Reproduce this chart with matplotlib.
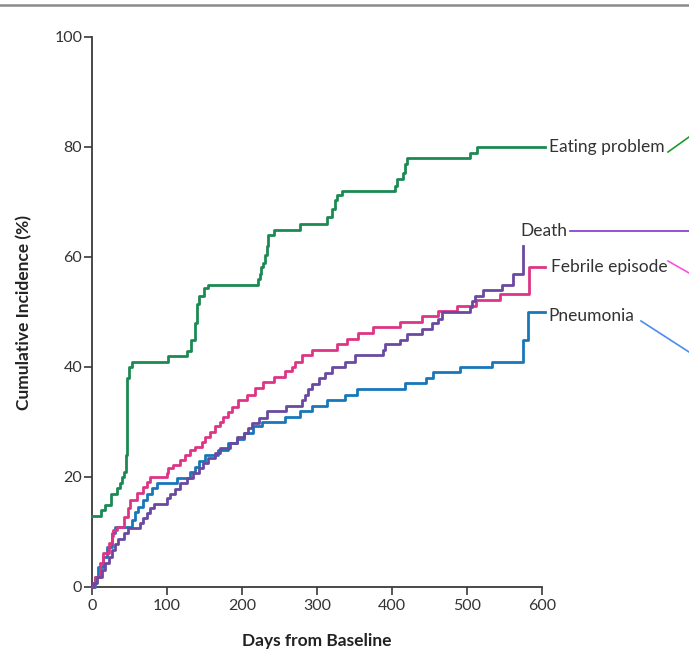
import matplotlib
matplotlib.use("Agg")
import matplotlib.pyplot as plt
from matplotlib.lines import Line2D

plt.rcParams['font.family'] = ['Lato', 'DejaVu Sans']

# ---- data (days, cumulative incidence %) ----
eat_days = [0, 12, 17, 25, 33, 37, 40, 43, 45, 46, 47, 49, 53, 101, 127, 132, 137, 140, 143, 149, 155,
            221, 224, 225, 228, 231, 233, 235, 242, 277, 313, 320, 324, 327, 333, 404, 407, 415, 417, 420,
            424, 504, 513, 604]
eat_vals = [13, 14, 15, 17, 18, 19, 20, 21, 24, 35, 38, 40, 41, 42, 43, 45, 48, 51.5, 53, 54.4, 55,
            56, 57, 58.2, 59, 60.4, 62, 64, 65, 66, 67.3, 68.8, 70.4, 71.3, 72, 73, 74.2, 75.3, 77, 78,
            78, 79, 80, 80]

feb_days = [0, 1, 4, 11, 15, 23, 26, 28, 33, 43, 48, 51, 60, 68, 73, 77, 100, 101, 108, 117, 124, 131,
            137, 146, 151, 157, 164, 171, 174, 181, 186, 195, 206, 217, 228, 242, 257, 266, 271, 280,
            293, 326, 340, 354, 375, 411, 440, 461, 486, 512, 544, 583, 604]
feb_vals = [0, 0.7, 1.9, 4.4, 6.2, 8, 9.2, 10.4, 11, 12.8, 14.4, 15.8, 17.1, 18.2, 19.1, 20, 20.8, 21.6,
            22.2, 23.1, 24, 24.9, 25.5, 26.4, 27.3, 28.2, 29.2, 30, 31, 31.9, 32.8, 34, 34.9, 36.2, 37.3,
            38.2, 39.2, 40, 41, 42.2, 43.1, 44.2, 45.1, 46.2, 47.2, 48.2, 49.2, 50.2, 51.1, 52.2, 53.3,
            58.2, 58.2]

pne_days = [0, 4, 8, 15, 20, 26, 31, 53, 57, 61, 68, 73, 80, 86, 113, 131, 137, 142, 151, 168, 181, 193,
            202, 215, 226, 257, 277, 293, 313, 337, 353, 417, 445, 455, 490, 533, 575, 581, 604]
pne_vals = [0, 1.9, 3.7, 5.5, 7.3, 9.8, 11, 12.2, 13.7, 14.6, 15.8, 17, 18, 19, 19.9, 21, 21.9, 23, 24,
            24.9, 26.1, 27, 28, 29.2, 30, 31, 32, 32.9, 34, 35, 36, 37.1, 38, 39.1, 40, 41, 45, 50, 50]

dth_days = [0, 1, 6, 13, 17, 22, 26, 31, 35, 42, 48, 64, 68, 73, 77, 82, 100, 104, 111, 117, 126, 135,
            142, 148, 155, 164, 171, 184, 193, 202, 208, 213, 222, 233, 258, 280, 284, 288, 293, 302, 311,
            320, 337, 351, 388, 391, 411, 420, 440, 453, 461, 466, 504, 506, 510, 521, 547, 561, 575, 575]
dth_vals = [0, 0.7, 1.9, 3.1, 4.3, 5.5, 6.7, 7.9, 8.8, 9.8, 10.7, 11.6, 12.5, 13.4, 14.3, 15.1, 16.1, 17,
            17.9, 18.9, 19.8, 20.7, 21.6, 22.5, 23.4, 24.3, 25.2, 26.1, 27.2, 28, 28.9, 29.8, 30.7, 32,
            33, 34, 35, 36, 37, 38, 39, 40, 41, 42.2, 43.1, 44.2, 45, 46, 47, 48, 48.8, 50, 51, 52, 53,
            54, 55, 57, 62, 62]

labels = ["Eating problem", "Death", "Febrile episode", "Pneumonia"]
x_ticks = [0, 100, 200, 300, 400, 500, 600]
y_ticks = [0, 20, 40, 60, 80, 100]

W, H = 689, 669
fig = plt.figure(figsize=(W / 100, H / 100), dpi=100)
ax = fig.add_axes([92 / W, 82 / H, 450 / W, 550 / H])

c_eat, c_feb, c_pne, c_dth = "#1b8a52", "#dd3585", "#1877b9", "#6a4aa0"
lw = 2.0
ax.step(eat_days, eat_vals, where='post', color=c_eat, lw=lw, clip_on=False, zorder=3)
ax.step(pne_days, pne_vals, where='post', color=c_pne, lw=lw, clip_on=False, zorder=3)
ax.step(dth_days, dth_vals, where='post', color=c_dth, lw=lw, clip_on=False, zorder=4)
ax.step(feb_days, feb_vals, where='post', color=c_feb, lw=lw, clip_on=False, zorder=3)

ax.set_xlim(0, 600)
ax.set_ylim(0, 100)
ax.set_xticks(x_ticks)
ax.set_yticks(y_ticks)
ax.set_xticklabels([str(v) for v in x_ticks])
ax.set_yticklabels([str(v) for v in y_ticks])
for s in ['top', 'right']:
    ax.spines[s].set_visible(False)
for s in ['left', 'bottom']:
    ax.spines[s].set_color('#3a3a3a')
    ax.spines[s].set_linewidth(1.3)
ax.tick_params(axis='both', direction='out', length=6, width=1.2, color='#3a3a3a',
               labelsize=11.5, labelcolor='#333333')
ax.tick_params(axis='y', pad=1)
ax.tick_params(axis='x', pad=3)

ax.set_xlabel("Days from Baseline", fontsize=12.5, fontweight='bold', color='#222222', labelpad=14)
ax.set_ylabel("Cumulative Incidence (%)", fontsize=12.5, fontweight='bold', color='#222222', labelpad=16)

# series labels
tkw = dict(fontsize=12.5, color='#333333', va='center', ha='left', clip_on=False)
ax.text(609, 80, labels[0], **tkw)
ax.text(571, 64.7, labels[1], **tkw)
ax.text(612, 58.2, labels[2], **tkw)
ax.text(609, 49.2, labels[3], **tkw)

# leader lines (figure pixel coords)
def fl(x0, y0, x1, y1, color):
    fig.add_artist(Line2D([x0 / W, x1 / W], [1 - y0 / H, 1 - y1 / H], color=color, lw=1.2,
                          transform=fig.transFigure, clip_on=False))

fl(668, 152, 689, 137, "#1e9a2a")
fl(570, 231, 689, 231, "#7a36d0")
fl(668, 261, 689, 273, "#ff4fdc")
fl(641, 321, 689, 352, "#4a8cf0")

# top rule
fig.add_artist(Line2D([0, 1], [1 - 5 / H, 1 - 5 / H], color='#8a8a8a', lw=1.8, transform=fig.transFigure))

fig.savefig("out.png", dpi=100, facecolor='white')
